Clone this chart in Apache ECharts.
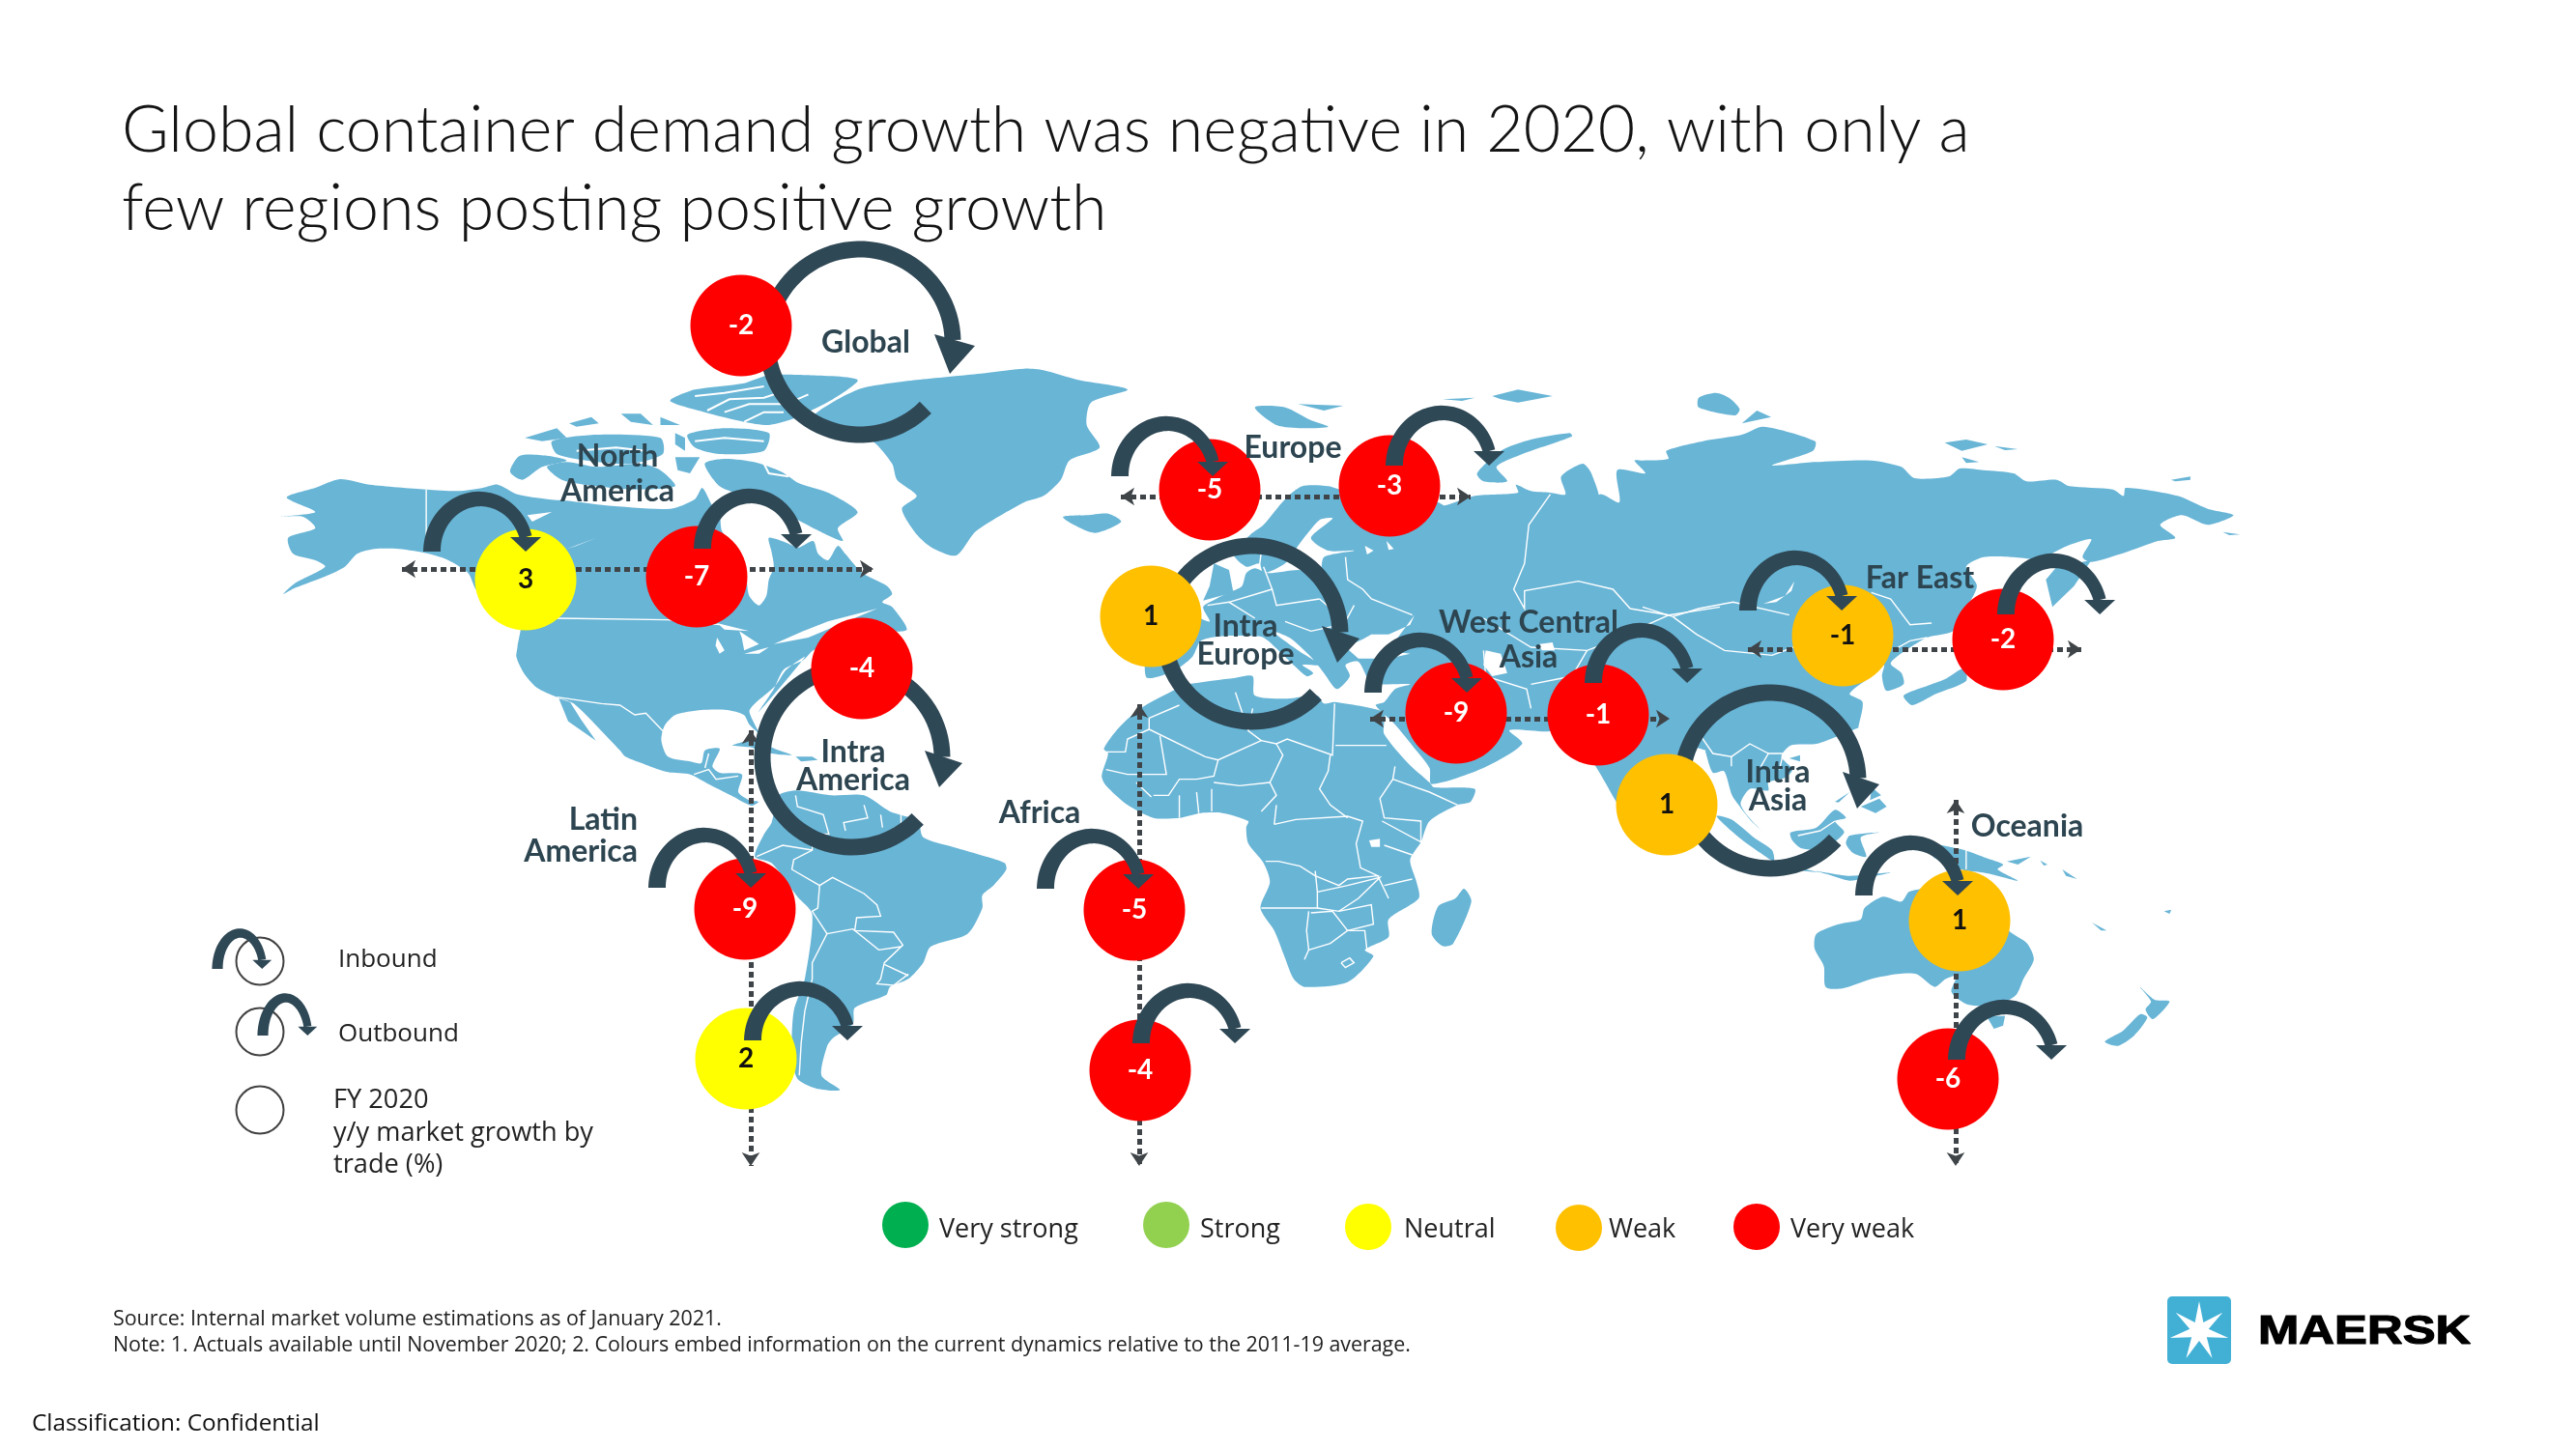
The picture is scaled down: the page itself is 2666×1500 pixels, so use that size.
<!DOCTYPE html>
<html><head><meta charset="utf-8">
<style>html,body{margin:0;padding:0;background:#fff}#c{width:2666px;height:1500px}</style>
<script src="https://cdn.jsdelivr.net/npm/echarts@6/dist/echarts.min.js"></script>
</head><body><div id="c"></div>
<script>
// ---------- data ----------
const statusNames = ['Very strong','Strong','Neutral','Weak','Very weak'];
const statusColors = ['#00B050','#92D050','#FFFF00','#FFC000','#FF0000'];
const trades  = ['Global','NA in','NA out','Intra America','LatAm in','LatAm out','Europe in','Europe out','Intra Europe','WCA in','WCA out','Intra Asia','Africa in','Africa out','FE in','FE out','Oceania in','Oceania out'];
const growth  = [-2,3,-7,-4,-9,2,-5,-3,1,-9,-1,1,-5,-4,-1,-2,1,-6];
const tradeStatus = [4,2,4,4,4,2,4,4,3,4,4,3,4,4,3,4,3,4];
const tradeX  = [767,544,721,892,771,772,1252,1438,1191,1507,1654,1725,1174,1180,1907,2073,2028,2016];
const tradeY  = [337,600,597,692,941,1096,507,503,638,738,740,833,942,1108,658,662,953,1117];
const regionNames = ['Global','North\nAmerica','Intra\nAmerica','Latin\nAmerica','Africa','Europe','Intra\nEurope','West Central\nAsia','Far East','Intra\nAsia','Oceania'];
const regionX = [896,639,883,660,1076,1338,1289,1582,1987,1840,2098];
const regionY = [355,491,793,865,842,464,663,663,599,814,856];
const regionLineHeight = [33,36,29,33,33,33,29,36,33,29,33];

// ---------- map outline, traced in crops of the picture ----------
const crops = {A:[260,240,1.96,3],B:[500,680,2.613,3],E:[1080,380,2.24,3],F:[1100,700,2.24,3],G:[1700,380,2.24,3],H:[1700,760,2.613,3]};
function C(k,flat){const c=crops[k],o=[];for(let i=0;i<flat.length;i+=2)o.push([c[0]+flat[i]/c[2],c[1]+flat[i+1]/c[3]]);return o;}
const northAmerica = C('A',[72,825,130,795,180,768,240,785,355,800,420,805,470,795,500,785,540,815,600,830,640,835,720,850,850,860,900,830,915,795,935,850,950,880,955,930,985,985,1000,1030,1005,1080,1010,1130,1030,1160,1045,1130,1050,1080,1060,1040,1055,990,1050,950,1085,965,1110,980,1140,960,1150,1000,1170,1020,1190,975,1205,1000,1240,1060,1290,1100,1300,1125,1280,1150,1300,1165,1330,1235,1290,1240,1240,1220,1140,1300,1120,1330,1080,1360,1060,1420,1030,1490])
 .concat(C('B',[870,0,820,40,790,90,735,145,720,170,745,235,720,210,705,180,660,165,590,165,520,180,490,215,482,260,500,310,560,325,590,330,600,290,640,285,620,340,640,360,700,365,690,420,720,445,745,450,725,462,670,430,610,395,560,365,500,358,440,335,385,310,370,290,320,230,245,145,200,125,145,95,110,50,90,0]))
 .concat(C('A',[540,1290,545,1200,460,1120,440,1060,400,1020,360,1000,300,985,250,985,215,1000,190,1040,150,1070,90,1105,65,1125,90,1090,150,1040,130,1020,85,1000,75,950,130,920,105,885,60,885,130,870]));
const baja = C('B',[205,130,230,200,305,260,265,195,235,140]);
const baffin = C('A',[920,720,960,705,1020,715,1075,745,1110,780,1170,810,1230,870,1190,920,1200,960,1140,920,1090,880,1040,850,1000,820,950,790]);
const victoria = C('A',[600,730,640,715,700,730,790,720,830,740,860,790,780,800,700,790,630,770]);
const banks = C('A',[525,745,545,695,600,695,640,710,590,730,550,770]);
const ellesmere = C('A',[850,525,900,490,1000,470,1050,445,1130,445,1230,460,1180,520,1100,580,1050,600,1000,590,920,560]);
const devon = C('A',[885,630,960,610,1050,625,1040,680,950,690,900,670]);
const melville = C('A',[610,650,700,630,830,640,835,690,770,720,680,710,620,690]);
const arctic1 = C('A',[555,640,620,610,640,640,590,650]);
const arctic2 = C('A',[645,595,690,575,705,595,660,605]);
const arctic3 = C('A',[750,565,790,565,815,600,770,590]);
const arctic4 = C('A',[830,575,870,600,830,600]);
const arctic5 = C('A',[860,625,880,640,880,680,860,660]);
const arctic6 = C('A',[860,700,910,700,890,750,865,740]);
const greenland = C('A',[1140,575,1190,520,1240,485,1350,460,1480,440,1568,425])
 .concat(C('E',[0,10,80,40,195,70,110,110,100,180,130,250,60,290,40,350,0,400]))
 .concat(C('A',[1568,840,1470,930,1430,1005,1380,980,1350,940,1320,860,1350,820,1310,770,1300,720,1260,650,1180,610]));
const iceland = C('E',[45,465,100,460,150,455,180,480,120,515,70,490]);
const svalbard = C('E',[490,125,560,125,620,165,660,185,600,190,540,180]);
const svalbard2 = C('E',[590,115,695,120,650,135]);
const novaya = C('E',[1005,330,1060,260,1130,225,1220,205,1225,215,1110,270,1050,310,1075,355,1020,355]);
const franz = C('E',[925,100,1000,95,970,105]);
const franz2 = C('E',[1040,90,1100,70,1180,90,1100,110,1060,100]);
const britain = C('E',[395,610,430,630,440,700,370,725,385,680]);
const eurasia = C('E',[240,965,300,945,345,900,365,850,420,835,470,835,510,840,560,900,610,960,625,950,600,925,640,925,590,880,530,820,570,840,620,900,650,950,680,1000,710,960,700,925,730,915,760,980,850,985,815,1000,790,1040,770,1050])
 .concat(C('F',[770,150,810,215,850,285,855,335,975,285,1065,210,1035,168,1120,172,1170,165,1235,280,1285,395,1300,420,1330,430,1400,280,1450,220,1490,230]))
 .concat(C('H',[170,55,190,120,220,115,240,185,250,205,290,265,322,300,285,255,265,215,290,170,340,175,340,150,385,135,405,110,375,70,400,35,470,30,530,5,585,-20]))
 .concat(C('G',[500,1120,510,1040,480,1015,530,960,560,925,555,960,565,1005,605,985,600,950,575,920,610,880,660,840,720,820,745,760,775,680,750,620,790,590,860,590,920,595,985,555,1040,535,1020,590,1040,605,1120,575,1195,540,1235,530,1200,490,1250,460,1310,490,1370,460,1310,440,1240,400,1120,375,1115,400,1090,380,990,370,960,350,890,355,860,330,790,320,735,315,710,340,630,345,600,310,530,290,400,295,300,305,395,260,400,230,280,185,230,210,140,230,55,260,60,285,0,290]))
 .concat(C('E',[1370,290,1395,330,1330,320,1335,420,1290,395,1240,455,1290,430,1270,330,1250,300,1200,340,1210,395,1175,390,1130,385,1095,365,1100,390,1000,400,930,430,915,420,700,385,660,370,600,370,560,410,510,490,480,520,440,580,470,620,500,610,510,640,560,610,590,555,640,475,670,470,620,530,660,570,720,570,650,590,640,640,590,630,520,640,490,625,470,640,460,680,430,700,400,720,370,745,385,790,350,775,240,770,235,900]));
const africa = C('F',[264,39,290,25,400,5,440,0,445,60,520,70,590,60,605,85,630,80,745,110,745,140,745,180,800,270,850,330,860,345,955,350,945,390,915,400,850,450,830,515,805,570,820,640,825,690,755,755,755,810,700,850,720,870,660,950,560,965,535,940,515,875,490,790,458,720,480,640,465,580,430,520,425,470,430,450,370,425,320,425,270,440,210,440,150,400,100,340,90,310,105,240,95,225,130,160,180,100]);
const madagascar = C('F',[930,660,947,700,905,830,880,838,855,800,870,715,910,690]);
const southAmerica = C('B',[800,430,850,415,940,430,1030,430,1100,480,1175,510,1190,560,1270,590,1360,620,1410,640,1415,660,1380,710,1350,740,1350,780,1310,860,1210,900,1190,950,1150,1000,1100,1025,1090,1050,1005,1090,1000,1140,945,1185,930,1210,915,1300,965,1345,900,1340,850,1310,835,1240,840,1100,870,1000,890,800,850,745,780,640,735,620,760,550,780,515]);
const cuba = C('B',[675,275,730,260,800,290,835,305,780,300,720,280]);
const hispaniola = C('B',[845,310,890,310,905,320,860,325]);
const sumatra = C('H',[200,255,240,265,300,320,350,360,355,395,320,370,260,320]);
const borneo = C('H',[400,305,470,290,520,235,550,260,520,270,545,305,490,355,430,355,405,330]);
const sulawesi = C('H',[560,315,640,305,590,320,605,380,570,370,550,340]);
const luzon = C('H',[620,165,645,190,615,205]);
const mindanao = C('H',[590,225,640,200,660,225,630,245]);
const palawan = C('H',[520,210,560,180,530,212]);
const java = C('H',[355,402,420,415,480,430,440,425,360,412]);
const sunda = C('H',[470,425,560,440,670,430,610,445,560,455,500,435]);
const papua = C('H',[730,335,780,340,870,360,930,385,975,405,960,420,1015,455,960,440,920,430,860,420,790,385,770,355]);
const britainNew = C('H',[985,395,1050,380,1015,405]);
const solomon = C('H',[1135,420,1175,450,1145,440]);
const solomon2 = C('H',[1075,392,1095,405,1085,408]);
const caledonia = C('H',[1215,585,1255,610,1240,610]);
const fiji = C('H',[1410,550,1430,545,1425,558]);
const australia = C('H',[470,620,530,590,590,575,600,540,650,505,700,520,720,490,755,480,880,440,940,520,990,610,1040,650,1058,700,1030,760,1010,810,960,840,880,840,835,800,850,750,820,760,790,785,740,745,690,745,620,760,540,790,495,785,490,720,465,665]);
const tasmania = C('H',[930,875,980,875,975,905,950,915]);
const nzSouth = C('H',[1250,955,1300,920,1345,870,1365,880,1330,935,1285,968]);
const nzNorth = C('H',[1345,785,1385,825,1425,830,1380,885,1360,855,1375,830]);
const honshu = C('G',[605,1020,660,990,700,970,745,935,750,975,680,1015,625,1050]);
const sakhalin = C('G',[935,660,960,620,1040,600,1000,680,950,745]);
const severnaya = C('G',[130,95,170,80,200,95,225,130,215,150,130,125]);
const severnaya2 = C('G',[230,175,265,135,298,155]);
const siberian = C('G',[700,235,750,225,800,240,740,260]);
const siberian2 = C('G',[815,245,870,255,840,258]);
const siberian3 = C('G',[740,280,780,295,750,298]);
const wrangel = C('G',[1225,350,1270,340,1270,350,1235,355]);
const islet = C('G',[1345,512,1385,520,1360,522]);
const hainan = C('G',[340,1215,365,1205,365,1225]);
const landMasses = [northAmerica,baja,baffin,victoria,banks,ellesmere,devon,melville,arctic1,arctic2,arctic3,arctic4,arctic5,arctic6,greenland,iceland,svalbard,svalbard2,novaya,franz,franz2,britain,eurasia,africa,madagascar,southAmerica,cuba,hispaniola,sumatra,borneo,sulawesi,luzon,mindanao,palawan,java,sunda,papua,britainNew,solomon,solomon2,caledonia,fiji,australia,tasmania,nzSouth,nzNorth,honshu,sakhalin,severnaya,severnaya2,siberian,siberian2,siberian3,wrangel,islet,hainan];
const waters = [
 C('A',[945,1215,1010,1240,960,1235]),C('A',[945,1260,960,1300,950,1310,942,1285]),C('A',[990,1240,1030,1280,1000,1300,995,1260]),
 C('A',[1000,1310,1050,1290,1030,1310]),C('A',[1060,1280,1120,1240,1170,1210,1270,1170,1130,1260]),C('A',[640,985,700,950,660,975]),C('A',[560,880,610,870,570,900]),
 C('E',[700,870,740,845,760,830,800,830,850,800,860,770,810,860,790,880,850,890,800,905,730,905]),
 C('E',[1025,880,1060,890,1075,950,1040,960,1020,925]),
 C('E',[745,555,765,570,750,582]),C('E',[795,540,812,565,800,568]),C('E',[1150,860,1180,855,1185,880,1155,880]),
 C('G',[280,735,330,710,352,665,345,695,310,730]),
 C('F',[710,510,735,505,735,530,715,530])
];
const channels = [
 C('A',[925,555,970,520,1040,515,1090,490]),C('A',[960,560,1010,535,1085,535,1130,505]),C('A',[1000,590,1040,560,1080,560]),C('A',[900,510,960,500,1040,480]),
 C('A',[900,650,960,640,1040,650]),C('A',[1040,720,1050,750,1090,760]),C('A',[660,680,740,670,800,680])
];
const borderLines = [
 C('A',[355,800,355,985]),C('A',[620,1200,845,1205,950,1220]),
 C('B',[200,125,320,145,370,150,410,180,440,175,490,235]),C('B',[570,365,610,350,630,380,690,370]),C('B',[600,345,610,300]),
 C('B',[845,430,850,465,920,490,935,550,890,550,890,600,840,630,835,660,910,710,945,685,1030,735,1065,770,1075,805,1010,810,1005,850,1110,855,1135,895,1085,950,1075,1000,1065,1015,1110,1020,1150,985]),
 C('B',[910,710,905,780,890,790,930,860,890,950,890,1000,870,1100,860,1200,855,1300]),C('B',[930,860,1000,845,1005,850,1070,910,1130,900]),C('B',[1085,955,1150,990]),C('B',[740,620,810,585,890,600]),C('B',[1030,460,1040,500,975,515,980,540]),C('B',[1075,490,1080,530]),C('B',[1130,490,1130,530]),
 C('F',[200,130,270,90]),C('F',[200,130,200,165,330,250,360,260,460,200,430,170,400,50]),C('F',[430,170,440,100]),C('F',[460,200,495,210,520,195,625,245,630,85]),C('F',[632,215,750,215]),C('F',[225,185,240,305,150,305,100,290]),C('F',[100,235,145,235,150,195,200,165]),C('F',[360,260,350,310,310,320,270,320,245,370,210,370]),C('F',[495,210,510,245,480,330,495,370,460,420]),C('F',[620,245,615,295,595,350,620,400,660,440]),C('F',[770,280,765,320,735,380,745,440,830,450,830,515,740,450]),C('F',[765,320,850,360,915,400]),C('F',[350,330,410,340,480,330]),C('F',[495,400,490,460]),C('F',[490,460,540,445,660,435,695,450,680,520,690,595,730,620,660,630,640,650,585,620,550,590,500,575,470,575]),C('F',[585,605,590,670,590,720,460,720]),C('F',[590,670,660,650,735,625,685,690,640,730,590,720]),C('F',[745,525,810,555]),C('F',[745,650,810,630]),C('F',[730,620,755,690]),C('F',[640,730,715,710,720,770,660,790]),C('F',[575,735,625,730,660,790,620,830,570,850,565,790,570,730]),C('F',[560,880,570,850]),C('F',[660,790,700,790,705,850,725,850]),C('F',[645,890,665,875,675,890,655,905,645,890]),C('F',[270,370,270,440]),C('F',[310,360,315,425]),C('F',[345,350,345,420]),C('F',[170,330,205,375]),
 C('E',[700,590,705,660,740,690,760,720,855,770]),C('E',[1175,395,1125,490,1115,610,1090,690,1115,750,1115,695,1240,665,1320,690,1360,750,1450,770,1568,745]),C('E',[1020,780,1130,870,1260,880,1320,850,1400,800,1450,770]),C('E',[1020,880,1025,960,1120,1000,1130,1060]),C('E',[430,730,530,690,540,740,640,720]),C('E',[380,740,430,730,490,780]),C('E',[640,720,700,790,720,740]),C('E',[530,690,510,620]),C('E',[505,570,500,625]),C('E',[560,790,620,820,690,800]),C('E',[1260,880,1225,960,1130,985]),
 C('G',[0,745,70,775,130,750,210,730,340,770]),C('G',[70,775,125,830,190,880,300,895,350,870]),C('G',[530,700,575,720,620,800,670,795]),C('G',[580,880,620,850,660,840]),
 C('H',[160,10,190,60,240,70,240,100]),C('H',[240,70,290,30,340,60,320,100]),C('H',[340,60,380,60,370,110]),C('H',[420,315,480,300,520,270]),C('H',[875,360,875,420])
];

// dotted trade corridors
const corridors = [[416,589,904,589],[1160,514,1522,514],[1418,744,1728,744],[1809,672,2154,672],[777,756,777,1207],[1179,729,1179,1207],[2024,828,2024,1207]];
// small arcs: startX, tipX, baseY, topY, thickness factor
const arcs = [[447,546,571,510,1],[727,826,568,507,1],[680,779,919,858,1],[779,879,1077,1017,1],[1159,1257,493,432,1],[1443,1543,482,421,1],[1421,1520,717,656,1],[1649,1748,707,646,1],[1082,1180,920,859,1],[1181,1280,1080,1019,1],[1809,1908,632,571,1],[2076,2175,636,574,1],[1929,2028,927,866,1],[2025,2125,1097,1036,1],[225,272,1003,962,.62],[272,319,1072,1029,.62]];
// loops: centre x,y, radius, tail x,y, arrow corners
const loops = [[890,354,96,959,423,967,346,1009,358,983,387],[882,784,93,952,850,957,777,996,790,972,815],[1296,656,91,1364,721,1368,648,1407,661,1384,686],[1832,808,91,1902,872,1907,799,1945,812,1922,837]];

const ARROW='#2F4855', LABEL='#2D4550';
const numberSeries = statusNames.map((name,si)=>({
  name,type:'scatter',z:4,symbol:'circle',symbolSize:105,silent:true,
  itemStyle:{color:statusColors[si],opacity:1},
  data:growth.map((v,i)=>({i,v})).filter(d=>tradeStatus[d.i]===si).map(d=>({value:[tradeX[d.i],tradeY[d.i]],growth:d.v})),
  label:{show:true,position:'inside',formatter:p=>String(p.data.growth),fontFamily:'Lato',fontWeight:700,fontSize:28,color:si>=4?'#fff':'#111'}
}));

function toPts(api,pts){return pts.map(p=>api.coord(p));}
const option={
  animation:false,backgroundColor:'#fff',
  grid:{left:0,right:0,top:0,bottom:0},
  xAxis:{type:'value',min:0,max:2666,show:false},
  yAxis:{type:'value',min:0,max:1500,inverse:true,show:false},
  title:[
    {text:'Global container demand growth was negative in 2020, with only a\nfew regions posting positive growth',left:121,top:90,textStyle:{fontFamily:'Lato',fontWeight:300,fontSize:66.3,lineHeight:81,color:'#141414'}},
    {text:'Source: Internal market volume estimations as of January 2021.\nNote: 1. Actuals available until November 2020; 2. Colours embed information on the current dynamics relative to the 2011-19 average.',left:112,top:1347,textStyle:{fontFamily:'Open Sans',fontWeight:400,fontSize:21.4,lineHeight:27,color:'#222'}},
    {text:'Classification: Confidential',left:28,top:1454,textStyle:{fontFamily:'Open Sans',fontWeight:400,fontSize:24.3,lineHeight:30,color:'#111'}},
    {text:'Inbound',left:345,top:972,textStyle:{fontFamily:'Open Sans',fontWeight:400,fontSize:26,lineHeight:34,color:'#222'}},
    {text:'Outbound',left:345,top:1049,textStyle:{fontFamily:'Open Sans',fontWeight:400,fontSize:26,lineHeight:34,color:'#222'}},
    {text:'FY 2020\ny/y market growth by\ntrade (%)',left:340,top:1118,textStyle:{fontFamily:'Open Sans',fontWeight:400,fontSize:27.2,lineHeight:33.5,color:'#222'}}
  ],
  legend:statusNames.map((n,i)=>({
    data:[n],icon:'circle',selectedMode:false,padding:0,
    left:[913,1183,1392,1610,1794][i],top:[1244,1244,1246,1247,1246][i],
    itemWidth:48,itemHeight:48,
    formatter:'{a|{name}}',
    textStyle:{rich:{a:{fontFamily:'Open Sans',fontSize:27,color:'#222',padding:[[10,10,6,4,6][i],0,0,[6,6,8,2,6][i]]}}}
  })),
  graphic:[
    {type:'rect',shape:{x:2243,y:1342,width:66,height:70,r:5},style:{fill:'#42B0D5'}},
    {type:'polygon',shape:{points:(()=>{const o=[];for(let i=0;i<14;i++){const r=i%2?10:31,a=-Math.PI/2+i*Math.PI/7;o.push([2276+r*Math.cos(a),1378+r*Math.sin(a)]);}return o;})()},style:{fill:'#fff'}},
    {type:'text',x:2337,y:1379,scaleX:1.21,style:{text:'MAERSK',fontFamily:'Liberation Sans',fontWeight:'bold',fontSize:42,fill:'#000',stroke:'#000',lineWidth:1.2,textVerticalAlign:'middle'}}
  ],
  series:[
    {type:'custom',z:1,silent:true,data:landMasses.map((_,i)=>[i]),renderItem:(p,api)=>({type:'polygon',shape:{points:toPts(api,landMasses[p.dataIndex]),smooth:landMasses[p.dataIndex].length>5?0.25:0},style:{fill:'#69B5D6'}})},
    {type:'custom',z:1.1,silent:true,data:waters.map((_,i)=>[i]),renderItem:(p,api)=>({type:'polygon',shape:{points:toPts(api,waters[p.dataIndex])},style:{fill:'#fff'}})},
    {type:'custom',z:1.15,silent:true,data:channels.map((_,i)=>[i]),renderItem:(p,api)=>({type:'polyline',shape:{points:toPts(api,channels[p.dataIndex])},style:{stroke:'#fff',lineWidth:2,fill:'none'}})},
    {type:'custom',z:1.2,silent:true,data:borderLines.map((_,i)=>[i]),renderItem:(p,api)=>({type:'polyline',shape:{points:toPts(api,borderLines[p.dataIndex])},style:{stroke:'#fff',lineWidth:1.4,fill:'none'}})},
    {type:'lines',coordinateSystem:'cartesian2d',z:2,silent:true,symbol:['arrow','arrow'],symbolSize:14,
      lineStyle:{color:'#3F4448',width:5,type:[6,4],opacity:1,curveness:0},
      data:corridors.map(c=>({coords:[[c[0],c[1]],[c[2],c[3]]]}))},
    {type:'custom',z:3,silent:true,data:loops.map((_,i)=>[i]),renderItem:(p,api)=>{
      const L=loops[p.dataIndex],[cx,cy,r,tx,ty,ax,ay,bx,by,hx,hy]=L;
      const a0=Math.atan2(ty-cy,tx-cx);let a1=Math.atan2((ay+by)/2-cy,(ax+bx)/2-cx);while(a1<a0)a1+=2*Math.PI;
      const outer=[],inner=[];for(let i=0;i<=80;i++){const a=a0+(a1-a0)*i/80;outer.push([cx+(r+8.5)*Math.cos(a),cy+(r+8.5)*Math.sin(a)]);inner.unshift([cx+(r-8.5)*Math.cos(a),cy+(r-8.5)*Math.sin(a)]);}
      return {type:'group',children:[
        {type:'polygon',shape:{points:toPts(api,outer.concat(inner))},style:{fill:ARROW}},
        {type:'polygon',shape:{points:toPts(api,[[ax,ay],[bx,by],[hx,hy]])},style:{fill:ARROW}}]};
    }}
  ].concat(numberSeries).concat([
    {type:'scatter',z:4,silent:true,symbolSize:49,itemStyle:{color:'rgba(0,0,0,0)',borderColor:'#111',borderWidth:2},data:[[269,995],[269,1068],[269,1149]]},
    {type:'custom',z:5,silent:true,data:arcs.map((_,i)=>[i]),renderItem:(p,api)=>{
      const [sx,ex,by,top,k]=arcs[p.dataIndex];
      const cx=(sx+ex)/2,rx=(ex-sx)/2,w0=18*k,w1=13*k,ry=by-top-w1/2,hl=15*k,hw=16*k;
      const tEnd=Math.asin(hl/ry),outer=[],inner=[];
      for(let i=0;i<=50;i++){const t=Math.PI-(Math.PI-tEnd)*i/50,w=(w0+(w1-w0)*i/50)/2,x=cx+rx*Math.cos(t),y=by-ry*Math.sin(t);
        const nx=ry*Math.cos(t),ny=-rx*Math.sin(t),n=Math.hypot(nx,ny);
        outer.push([x+w*nx/n,y+w*ny/n]);inner.unshift([x-w*nx/n,y-w*ny/n]);}
      const bx=cx+rx*Math.cos(tEnd);
      return {type:'group',children:[
        {type:'polygon',shape:{points:toPts(api,outer.concat(inner))},style:{fill:ARROW}},
        {type:'polygon',shape:{points:toPts(api,[[bx-hw,by-hl],[bx+hw,by-hl],[bx,by]])},style:{fill:ARROW}}]};
    }},
    {type:'custom',z:6,silent:true,data:regionNames.map((_,i)=>[i]),renderItem:(p,api)=>{
      const i=p.dataIndex,pt=api.coord([regionX[i],regionY[i]]);
      return {type:'text',x:pt[0],y:pt[1],style:{text:regionNames[i],fontFamily:'Lato',fontWeight:700,fontSize:32,lineHeight:regionLineHeight[i],fill:LABEL,textAlign:i===3?'right':'center',textVerticalAlign:'middle'}};
    }}
  ])
};
const chart=echarts.init(document.getElementById('c'),null,{renderer:'canvas'});
chart.setOption(option);
</script></body></html>
